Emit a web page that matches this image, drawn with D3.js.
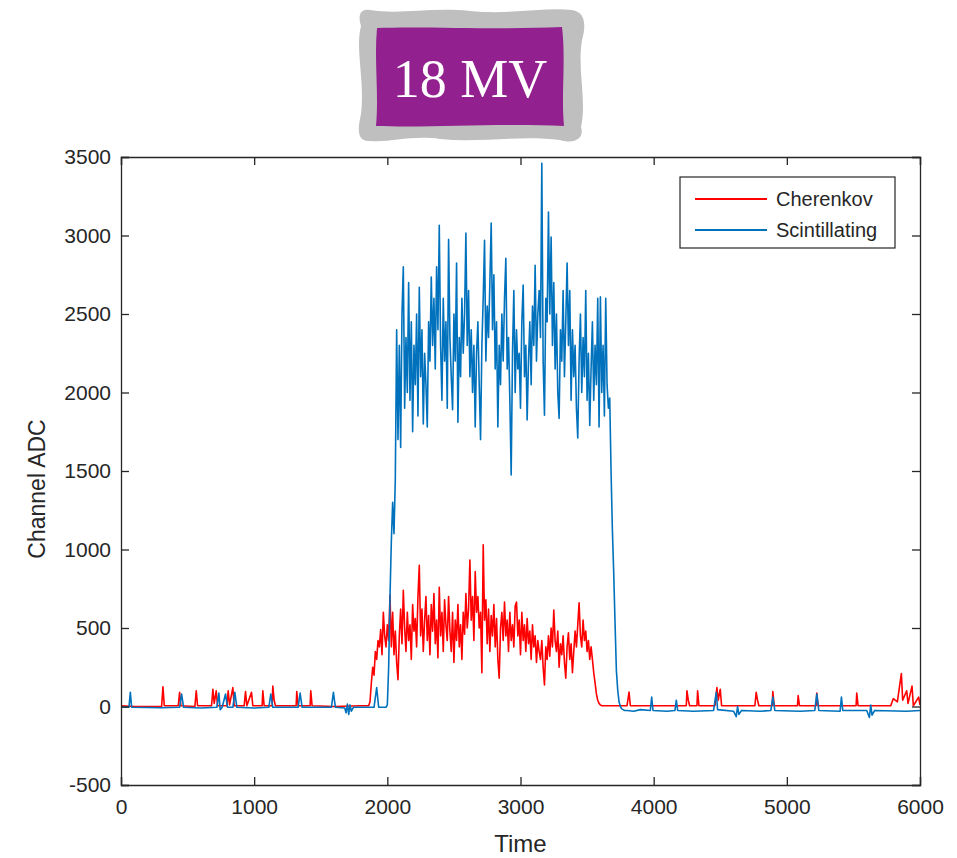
<!DOCTYPE html>
<html><head><meta charset="utf-8">
<script src="https://cdn.jsdelivr.net/npm/d3@7/dist/d3.min.js"></script>
<style>body{margin:0;background:#fff;} svg{display:block;}</style>
</head><body>
<svg id="chart" width="957" height="858"></svg>
<script>
// ---- data ----
const seriesNames = ["Cherenkov", "Scintillating"];
const xTicks = [0, 1000, 2000, 3000, 4000, 5000, 6000];
const yTicks = [-500, 0, 500, 1000, 1500, 2000, 2500, 3000, 3500];

// Cherenkov: baseline before rise
const redPreTime  = [0,100,305,315,325,430,440,450,555,565,575,680,690,700,715,725,795,805,815,840,850,925,935,945,980,990,1060,1065,1075,1135,1140,1150,1160,1315,1320,1330,1420,1425,1435,1600,1800,1860];
const redPreValue = [5,0,0,125,5,5,90,5,0,100,5,5,110,20,100,5,5,100,10,120,5,5,95,5,90,5,5,100,5,5,130,40,5,5,95,5,5,100,5,0,5,5];
// Cherenkov: beam-on region, t = 1870 ... 3610 every 10
const redBeamStart = 1870;
const redBeamValue = [30,150,250,200,350,300,420,380,490,330,600,450,380,520,420,710,380,600,330,480,280,170,450,620,400,740,500,350,600,420,520,300,650,480,560,380,700,900,450,620,350,550,700,420,580,330,650,480,720,400,550,310,760,450,600,350,680,520,420,700,480,350,600,280,550,420,650,380,520,300,600,460,720,500,620,933,550,700,420,860,600,700,500,600,215,1030,550,680,400,620,350,580,450,650,380,560,300,180,500,600,420,665,450,550,350,600,420,520,380,640,665,450,550,330,600,420,520,350,560,400,480,300,520,380,450,280,420,350,300,420,250,137,380,300,450,320,500,380,615,420,350,480,250,400,330,450,280,180,380,470,300,400,215,350,480,380,520,660,450,380,550,420,480,350,420,300,380,300,215,150,80,40,20,10,5];
// Cherenkov: baseline after
const redPostTime  = [3650,3800,3815,3825,4000,4245,4250,4260,4270,4325,4330,4340,4460,4475,4485,4500,4510,4760,4770,4780,4790,4890,4895,4905,5080,5085,5095,5220,5225,5235,5520,5525,5535,5780,5800,5830,5860,5870,5900,5910,5940,5950,5990,6000];
const redPostValue = [5,5,92,5,5,5,100,40,5,5,100,5,5,120,40,110,5,5,90,40,5,5,95,5,5,70,5,5,85,5,5,85,5,5,50,30,210,40,100,20,130,5,60,10];

// Scintillating: baseline before rise
const bluePreTime  = [0,60,70,80,300,440,455,470,600,720,735,745,760,785,800,840,855,870,1000,1110,1125,1140,1330,1345,1360,1580,1595,1610,1680,1690,1700,1710,1720,1730,1745,1800,1900,1920,1935,1990];
const bluePreValue = [-5,-5,90,-5,-8,-5,80,-5,-10,-5,85,-20,-5,80,-5,-5,90,-5,-10,-5,80,-5,-5,85,-5,-5,90,-5,-10,-40,15,-50,10,-30,-5,-5,-5,120,-5,-5];
// Scintillating: beam-on region, t = 2000 ... 3780 every 10
const blueBeamStart = 2000;
const blueBeamValue = [10,250,700,1050,1300,1100,1450,2400,1700,2300,1650,2500,2800,1900,2350,2000,2700,1950,2450,1750,2300,2050,2500,1850,2670,2100,2400,1800,2250,2050,1780,2450,2200,2735,2300,2600,2150,2800,2400,3065,2300,1950,2600,2200,2450,1900,2975,2350,2100,1890,2500,2200,2825,1810,2350,2100,2600,2250,2500,3015,2300,2650,2100,2400,2000,2300,1780,2250,2450,2050,1700,2300,2600,2970,2200,2550,2350,2700,3080,2400,2750,2150,2450,1780,2300,2050,2500,2200,2600,2855,2150,2350,1950,1475,2250,2650,2000,2400,2150,2250,1900,2450,2685,2100,2300,1825,2200,2450,2050,2550,2300,2810,2200,2500,2650,2350,3460,2200,1855,2600,2450,3150,2500,2990,2300,2700,2150,2500,2000,1835,2400,2200,2650,2100,2450,2825,2300,2650,1950,2400,2100,2300,1900,1710,2200,2500,2000,2350,2100,2650,1950,2250,1790,2150,2450,1950,2300,2050,2600,1780,2610,2000,2300,1850,2600,2050,1900,1965,1500,1125,850,530,230,105,30,0,-15,-20,-25];
// Scintillating: baseline after
const bluePostTime  = [3800,3850,3900,3975,3985,3995,4100,4160,4170,4180,4300,4450,4470,4480,4600,4620,4630,4640,4660,4800,4880,4895,4910,5100,5210,5225,5240,5400,5410,5420,5600,5620,5630,5640,5660,5900,6000];
const bluePostValue = [-25,-30,-20,-25,60,-25,-30,-25,40,-25,-30,-25,90,-20,-30,-65,0,-50,-25,-30,-25,60,-25,-30,-25,80,-25,-30,60,-25,-25,-70,10,-55,-25,-30,-25];

// ---- build point lists ----
function build(preT, preV, start, beam, postT, postV) {
  const pts = [];
  preT.forEach((t, i) => pts.push([t, preV[i]]));
  beam.forEach((v, i) => pts.push([start + i * 10, v]));
  postT.forEach((t, i) => pts.push([t, postV[i]]));
  return pts;
}
const redPts = build(redPreTime, redPreValue, redBeamStart, redBeamValue, redPostTime, redPostValue);
const bluePts = build(bluePreTime, bluePreValue, blueBeamStart, blueBeamValue, bluePostTime, bluePostValue);

// ---- layout ----
const svg = d3.select("#chart");
const L = 121, R = 920, T = 157, B = 785;
const x = d3.scaleLinear().domain([0, 6000]).range([L, R]);
const y = d3.scaleLinear().domain([-500, 3500]).range([B, T]);
const axisColor = "#262626";
const font = "'Liberation Sans', Arial, Helvetica, sans-serif";

// badge
const badge = svg.append("g");
badge.append("path")
  .attr("d", "M370,10 C400,15 430,7 470,11 C510,15 545,7 572,10 C586,12 586,26 582,40 C577,70 587,100 581,127 C585,140 572,144 560,140 C520,135 480,143 440,139 C410,135 390,143 370,141 C356,142 358,128 361,114 C365,80 355,50 361,26 C357,13 362,9 370,10 Z")
  .attr("fill", "#bfbfbf");
badge.append("path")
  .attr("d", "M377,28 C420,26 500,30 562,27 C566,60 561,95 564,126 C500,123 430,128 376,126 C379,95 374,60 377,28 Z")
  .attr("fill", "#92208e");
badge.append("text")
  .attr("x", 470).attr("y", 97)
  .attr("text-anchor", "middle")
  .attr("font-family", "'Liberation Serif', 'Times New Roman', serif")
  .attr("font-size", 54)
  .attr("fill", "#ffffff")
  .text("18 MV");

// clip
svg.append("defs").append("clipPath").attr("id", "clip")
  .append("rect").attr("x", L).attr("y", T).attr("width", R - L).attr("height", B - T);

// lines
const line = d3.line().x(d => x(d[0])).y(d => y(d[1]));
const plot = svg.append("g").attr("clip-path", "url(#clip)");
plot.append("path").datum(redPts).attr("d", line)
  .attr("fill", "none").attr("stroke", "#ff0000").attr("stroke-width", 1.6).attr("stroke-linejoin", "round");
plot.append("path").datum(bluePts).attr("d", line)
  .attr("fill", "none").attr("stroke", "#0072bd").attr("stroke-width", 1.6).attr("stroke-linejoin", "round");

// axes (MATLAB-like, ticks inward, box)
const tickLen = 8;
const fmt = d => String(d);
const xAxisB = d3.axisBottom(x).tickValues(xTicks).tickSize(-tickLen).tickPadding(14).tickFormat(fmt);
const xAxisT = d3.axisTop(x).tickValues(xTicks).tickSize(-tickLen).tickFormat("");
const yAxisL = d3.axisLeft(y).tickValues(yTicks).tickSize(-tickLen).tickPadding(10).tickFormat(fmt);
const yAxisR = d3.axisRight(y).tickValues(yTicks).tickSize(-tickLen).tickFormat("");

function style(g) {
  g.selectAll("path.domain").attr("stroke", axisColor).attr("stroke-width", 1.3);
  g.selectAll(".tick line").attr("stroke", axisColor).attr("stroke-width", 1.3);
  g.selectAll(".tick text").attr("fill", axisColor).attr("font-family", font).attr("font-size", 21);
}
svg.append("g").attr("transform", `translate(0,${B})`).call(xAxisB).call(style);
svg.append("g").attr("transform", `translate(0,${T})`).call(xAxisT).call(style);
svg.append("g").attr("transform", `translate(${L},0)`).call(yAxisL).call(style);
svg.append("g").attr("transform", `translate(${R},0)`).call(yAxisR).call(style);

// axis labels
svg.append("text").attr("x", (L + R) / 2).attr("y", 852).attr("text-anchor", "middle")
  .attr("font-family", font).attr("font-size", 24).attr("fill", axisColor).text("Time");
svg.append("text").attr("transform", `translate(45,489) rotate(-90)`).attr("text-anchor", "middle")
  .attr("font-family", font).attr("font-size", 23).attr("fill", axisColor).text("Channel ADC");

// legend
const lg = svg.append("g");
lg.append("rect").attr("x", 680).attr("y", 177).attr("width", 215).attr("height", 71)
  .attr("fill", "#fff").attr("stroke", axisColor).attr("stroke-width", 1.2);
const colors = ["#ff0000", "#0072bd"];
seriesNames.forEach((n, i) => {
  const yy = 199 + i * 31;
  lg.append("line").attr("x1", 695).attr("x2", 767).attr("y1", yy).attr("y2", yy)
    .attr("stroke", colors[i]).attr("stroke-width", 1.8);
  lg.append("text").attr("x", 776).attr("y", yy + 7).attr("font-family", font).attr("font-size", 20)
    .attr("fill", axisColor).text(n);
});
</script>
</body></html>
